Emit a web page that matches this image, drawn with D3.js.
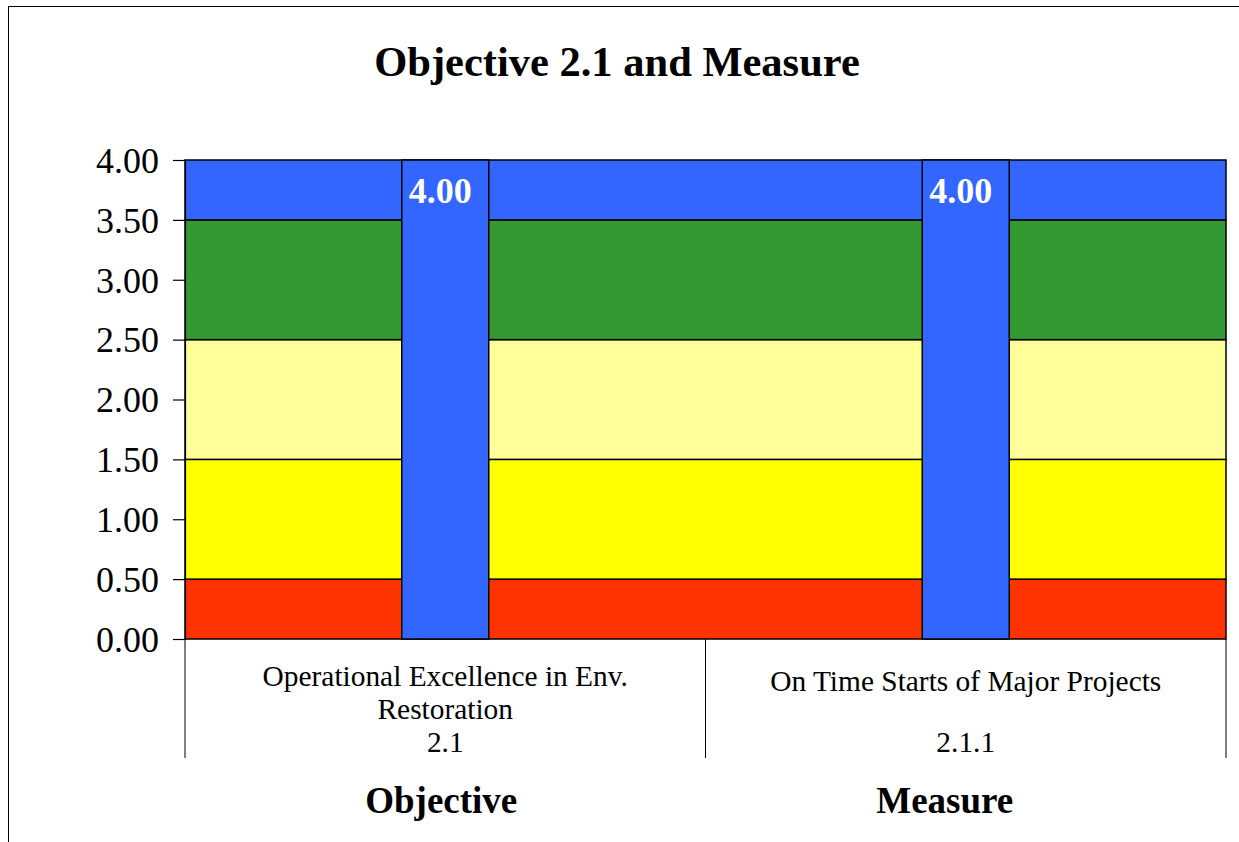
<!DOCTYPE html>
<html>
<head>
<meta charset="utf-8">
<script src="https://cdn.jsdelivr.net/npm/d3@7"></script>
<style>
  html, body { margin: 0; padding: 0; background: #fff; }
  svg { display: block; font-family: "Liberation Serif", "Times New Roman", serif; }
</style>
</head>
<body>
<svg id="chart" width="1239" height="842"></svg>
<script>
// ---- data ----
const title = "Objective 2.1 and Measure";
const categories = ["Objective", "Measure"];
const categoryLabels = [
  ["Operational Excellence in Env.", "Restoration", "2.1"],
  ["On Time Starts of Major Projects", "2.1.1"]
];
const values = [4.00, 4.00];
const bandStarts = [0.0, 0.5, 1.5, 2.5, 3.5];
const bandEnds   = [0.5, 1.5, 2.5, 3.5, 4.0];
const bandColors = ["#FF3300", "#FFFF00", "#FFFF99", "#339933", "#3366FF"];
const yTicks = [0, 0.5, 1, 1.5, 2, 2.5, 3, 3.5, 4];
const barColor = "#3366FF";

// ---- layout ----
const svg = d3.select("#chart");
const plot = { left: 185, right: 1226, top: 160, bottom: 639 };
const catBottom = 758;

const x = d3.scaleBand().domain(categories).range([plot.left, plot.right]).padding(0);
const y = d3.scaleLinear().domain([0, 4]).range([plot.bottom, plot.top]);
const barFrac = 87 / 520.5;

// outer border
svg.append("rect")
  .attr("x", 8.5).attr("y", 6.5)
  .attr("width", 1300).attr("height", 900)
  .attr("fill", "none").attr("stroke", "#000").attr("stroke-width", 1);

// title
svg.append("text")
  .attr("x", 617).attr("y", 76)
  .attr("text-anchor", "middle")
  .attr("font-weight", "bold")
  .attr("font-size", 42.5)
  .text(title);

// background bands
svg.append("g").selectAll("rect")
  .data(bandStarts)
  .join("rect")
  .attr("x", plot.left)
  .attr("width", plot.right - plot.left)
  .attr("y", (d, i) => y(bandEnds[i]))
  .attr("height", (d, i) => y(d) - y(bandEnds[i]))
  .attr("fill", (d, i) => bandColors[i])
  .attr("stroke", "#000")
  .attr("stroke-width", 1.5);

// bars
svg.append("g").selectAll("rect")
  .data(values)
  .join("rect")
  .attr("x", (d, i) => x(categories[i]) + x.bandwidth() * (1 - barFrac) / 2)
  .attr("width", x.bandwidth() * barFrac)
  .attr("y", d => y(d))
  .attr("height", d => y(0) - y(d))
  .attr("fill", barColor)
  .attr("stroke", "#000")
  .attr("stroke-width", 1.5);

// bar value labels
svg.append("g").selectAll("text")
  .data(values)
  .join("text")
  .attr("x", (d, i) => x(categories[i]) + x.bandwidth() / 2 - 5)
  .attr("y", d => y(d) + 43)
  .attr("text-anchor", "middle")
  .attr("font-weight", "bold")
  .attr("font-size", 36)
  .attr("fill", "#fff")
  .text(d => d.toFixed(2));

// y axis
const yAxis = d3.axisLeft(y)
  .tickValues(yTicks)
  .tickFormat(d3.format(".2f"))
  .tickSize(12)
  .tickPadding(14);
const gy = svg.append("g")
  .attr("transform", `translate(${plot.left},0)`)
  .call(yAxis);
gy.select(".domain").attr("stroke", "#000").attr("stroke-width", 1.2);
gy.selectAll(".tick line").attr("stroke", "#000").attr("stroke-width", 1.2);
gy.selectAll(".tick text")
  .attr("font-family", "Liberation Serif, Times New Roman, serif")
  .attr("font-size", 36)
  .attr("fill", "#000")
  .attr("dy", "0.34em");

// category divider lines
const dividers = [plot.left, ...categories.slice(1).map(c => x(c)), plot.right];
svg.append("g").selectAll("line")
  .data(dividers)
  .join("line")
  .attr("x1", d => d).attr("x2", d => d)
  .attr("y1", plot.bottom).attr("y2", catBottom)
  .attr("stroke", "#000").attr("stroke-width", 1);

// category labels
const labelBaselines = [[686, 719, 752], [691, 752]];
categoryLabels.forEach((lines, i) => {
  const cx = x(categories[i]) + x.bandwidth() / 2;
  const t = svg.append("text")
    .attr("text-anchor", "middle")
    .attr("font-size", 29.4);
  lines.forEach((ln, j) => {
    t.append("tspan").attr("x", cx).attr("y", labelBaselines[i][j]).text(ln);
  });
});

// group labels
const groupOffsets = [-4, -21];
svg.append("g").selectAll("text")
  .data(categories)
  .join("text")
  .attr("x", (d, i) => x(d) + x.bandwidth() / 2 + groupOffsets[i])
  .attr("y", 813)
  .attr("text-anchor", "middle")
  .attr("font-weight", "bold")
  .attr("font-size", 37)
  .text(d => d);
</script>
</body>
</html>
